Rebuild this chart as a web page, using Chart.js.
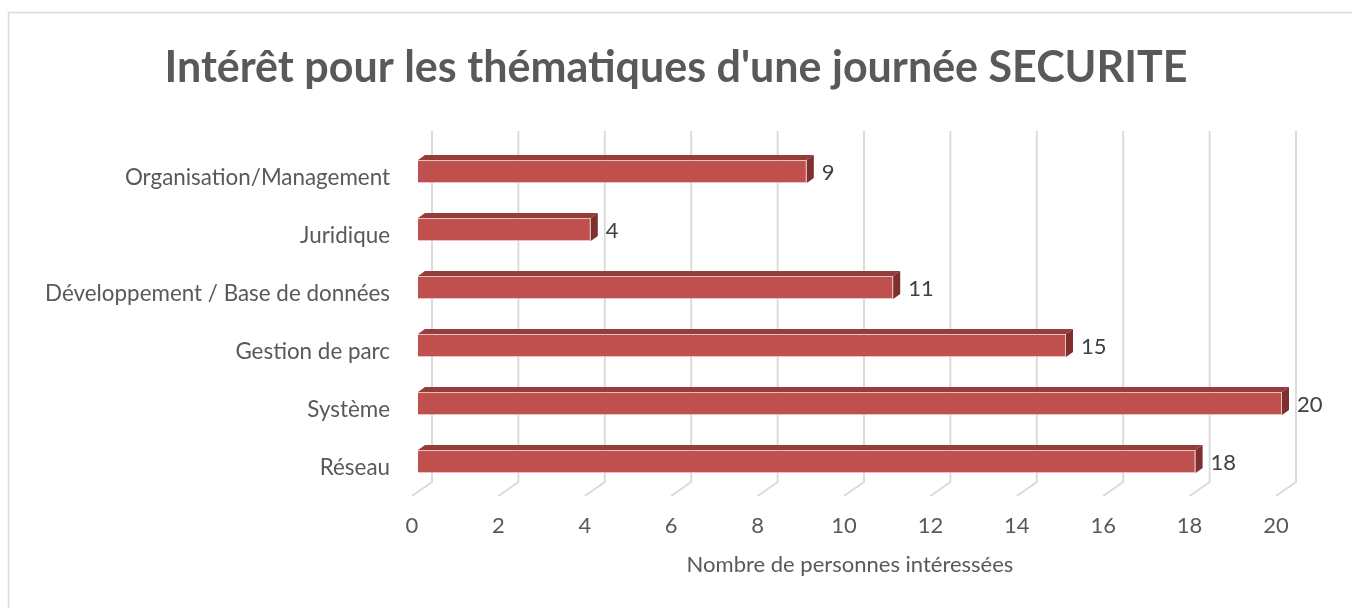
<!DOCTYPE html>
<html>
<head>
<meta charset="utf-8">
<script src="https://cdn.jsdelivr.net/npm/chart.js@4/dist/chart.umd.min.js"></script>
<style>
  html, body { margin: 0; padding: 0; background: #fff; }
  #wrap { width: 1352px; height: 608px; position: relative; }
</style>
</head>
<body>
<div id="wrap"><canvas id="barChart" width="1352" height="608"></canvas></div>
<script>
// chart data
var categories = ['Organisation/Management', 'Juridique', 'Développement / Base de données', 'Gestion de parc', 'Système', 'Réseau'];
var personnes = [9, 4, 11, 15, 20, 18];
var xTicks = [0, 2, 4, 6, 8, 10, 12, 14, 16, 18, 20];

var chartTitle = "Intérêt pour les thématiques d'une journée SECURITE";
var xTitle = 'Nombre de personnes intéressées';

var FONT = 'Lato, "Open Sans", sans-serif';

// frame + white background
var framePlugin = {
  id: 'frame',
  beforeDraw: function (chart) {
    var ctx = chart.ctx;
    ctx.save();
    ctx.fillStyle = '#fff';
    ctx.fillRect(0, 0, chart.width, chart.height);
    ctx.strokeStyle = '#D9D9D9';
    ctx.lineWidth = 1.5;
    ctx.strokeRect(8.5, 12.5, chart.width + 20, chart.height + 20);
    ctx.restore();
  }
};

// back wall gridlines + floor lines (3D look)
var floorGrid = {
  id: 'floorGrid',
  beforeDatasetsDraw: function (chart) {
    var ctx = chart.ctx, xs = chart.scales.x, area = chart.chartArea;
    ctx.save();
    ctx.strokeStyle = '#D9D9D9';
    ctx.lineWidth = 1.8;
    xTicks.forEach(function (v) {
      var px = xs.getPixelForValue(v);
      ctx.beginPath();
      ctx.moveTo(px + 14, area.top - 11.5);
      ctx.lineTo(px + 14, area.bottom - 8.5);
      ctx.lineTo(px - 6, area.bottom + 5.5);
      ctx.stroke();
    });
    ctx.restore();
  }
};

// top + side faces of the bars, and the value labels
var bars3d = {
  id: 'bars3d',
  afterDatasetsDraw: function (chart) {
    var ctx = chart.ctx;
    var meta = chart.getDatasetMeta(0);
    var dx = 7, dy = 5;
    ctx.save();
    meta.data.forEach(function (bar, i) {
      var p = bar.getProps(['x', 'y', 'base', 'height'], true);
      var t = p.y - p.height / 2, b = p.y + p.height / 2;
      ctx.fillStyle = '#953D3B';
      ctx.beginPath();
      ctx.moveTo(p.base, t);
      ctx.lineTo(p.base + dx, t - dy);
      ctx.lineTo(p.x + dx, t - dy);
      ctx.lineTo(p.x, t);
      ctx.closePath();
      ctx.fill();
      ctx.fillStyle = '#7F302E';
      ctx.beginPath();
      ctx.moveTo(p.x, t);
      ctx.lineTo(p.x + dx, t - dy);
      ctx.lineTo(p.x + dx, b - dy);
      ctx.lineTo(p.x, b);
      ctx.closePath();
      ctx.fill();

      ctx.fillStyle = '#404040';
      ctx.font = '22px ' + FONT;
      ctx.textAlign = 'left';
      ctx.textBaseline = 'middle';
      ctx.fillText(String(personnes[i]), p.x + 15, p.y + 1);
    });
    ctx.restore();
  }
};

var barChartCanvas = document.getElementById('barChart').getContext('2d');

new Chart(barChartCanvas, {
  type: 'bar',
  data: {
    labels: categories,
    datasets: [
      {
        label: 'Personnes',
        backgroundColor: '#C0504D',
        borderColor: 'rgba(224,170,168,0.7)',
        borderWidth: 1,
        data: personnes,
        barPercentage: 0.4,
        categoryPercentage: 1
      }
    ]
  },
  options: {
    indexAxis: 'y',
    responsive: false,
    animation: false,
    events: [],
    layout: { padding: 0 },
    plugins: {
      legend: { display: false },
      tooltip: { enabled: false },
      title: {
        display: true,
        text: chartTitle,
        color: '#595959',
        font: { family: FONT, size: 43, weight: 'bold', lineHeight: 1.2 },
        padding: { top: 42.2, bottom: 48.7 }
      }
    },
    scales: {
      x: {
        min: 0,
        max: 20,
        afterFit: function (scale) { scale.height = 117.5; },
        afterBuildTicks: function (scale) {
          scale.ticks = xTicks.map(function (v) { return { value: v }; });
        },
        grid: { display: false, drawTicks: false },
        border: { display: false },
        ticks: {
          color: '#595959',
          font: { family: FONT, size: 22 },
          padding: 22.3,
          labelOffset: -6,
          maxRotation: 0
        },
        title: {
          display: true,
          text: xTitle,
          color: '#595959',
          font: { family: FONT, size: 22, lineHeight: 1.2 },
          padding: { top: 0, bottom: 29.8 }
        }
      },
      y: {
        afterFit: function (scale) { scale.width = 418; },
        grid: { display: false, drawTicks: false },
        border: { display: false },
        ticks: {
          color: '#595959',
          font: { family: FONT, size: 22.4 },
          padding: 28,
          labelOffset: 6
        }
      },
      // empty right-hand axis, only reserves the gap after the plot
      yRight: {
        type: 'linear',
        position: 'right',
        min: 0,
        max: 1,
        afterFit: function (scale) { scale.width = 70; },
        grid: { display: false, drawTicks: false },
        border: { display: false },
        ticks: { display: false }
      }
    }
  },
  plugins: [framePlugin, floorGrid, bars3d]
});
</script>
</body>
</html>
